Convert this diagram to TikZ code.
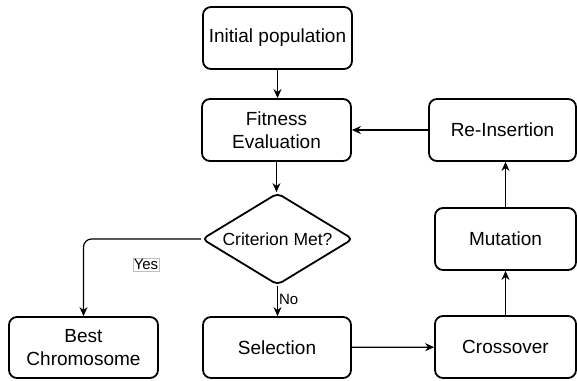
\documentclass[tikz,border=0pt]{standalone}
\usepackage{fontspec}
\setmainfont{Liberation Sans}
\usetikzlibrary{shapes.geometric,arrows.meta}
\begin{document}
\begin{tikzpicture}[x=1pt,y=-1pt,
  procbox/.style={draw=black,line width=1.8pt,rounded corners=8pt,inner sep=0pt,align=center,
    font=\fontsize{19}{23}\selectfont},
  decbox/.style={draw=black,line width=1.8pt,diamond,rounded corners=5pt,inner sep=0pt,
    minimum width=151pt,minimum height=92pt,aspect=1.64,font=\fontsize{17.5}{21}\selectfont},
  flow/.style={line width=1.2pt,-{Stealth[length=9pt,width=8pt]}},
  lbl/.style={font=\fontsize{15}{17}\selectfont,inner sep=1pt}]
\useasboundingbox (0,0) rectangle (577,380);
\node[procbox,minimum width=149pt,minimum height=62pt] (init) at (277.5,38) {Initial population};
\node[procbox,minimum width=149pt,minimum height=62pt] (fit) at (276.5,130) {Fitness\\Evaluation};
\node[decbox] (dia) at (277.5,239) {Criterion Met?};
\node[procbox,minimum width=149pt,minimum height=61pt] (best) at (83.5,347.5) {Best\\Chromosome};
\node[procbox,minimum width=148pt,minimum height=61pt] (sel) at (277,347.5) {Selection};
\node[procbox,minimum width=141pt,minimum height=62pt] (cross) at (505.5,347) {Crossover};
\node[procbox,minimum width=141pt,minimum height=62pt] (mut) at (505.5,239) {Mutation};
\node[procbox,minimum width=147pt,minimum height=62pt] (reins) at (502.5,130) {Re-Insertion};
\draw[flow] (init.south) -- (init.south |- fit.north);
\draw[flow] (fit.south) -- (fit.south |- dia.north);
\draw[flow] (dia.south) -- node[lbl,right,pos=0.45] (nolbl) {No} (dia.south |- sel.north);
\draw[flow,rounded corners=8pt] (dia.west) -| (best.north);
\node[lbl,draw=black!25,line width=0.4pt] (yeslbl) at (146,264.5) {Yes};
\draw[flow] (sel) -- (cross);
\draw[flow] (cross.north) -- (mut.south);
\draw[flow] (mut.north) -- (mut.north |- reins.south);
\draw[flow] (reins) -- (fit);
\end{tikzpicture}
\end{document}
